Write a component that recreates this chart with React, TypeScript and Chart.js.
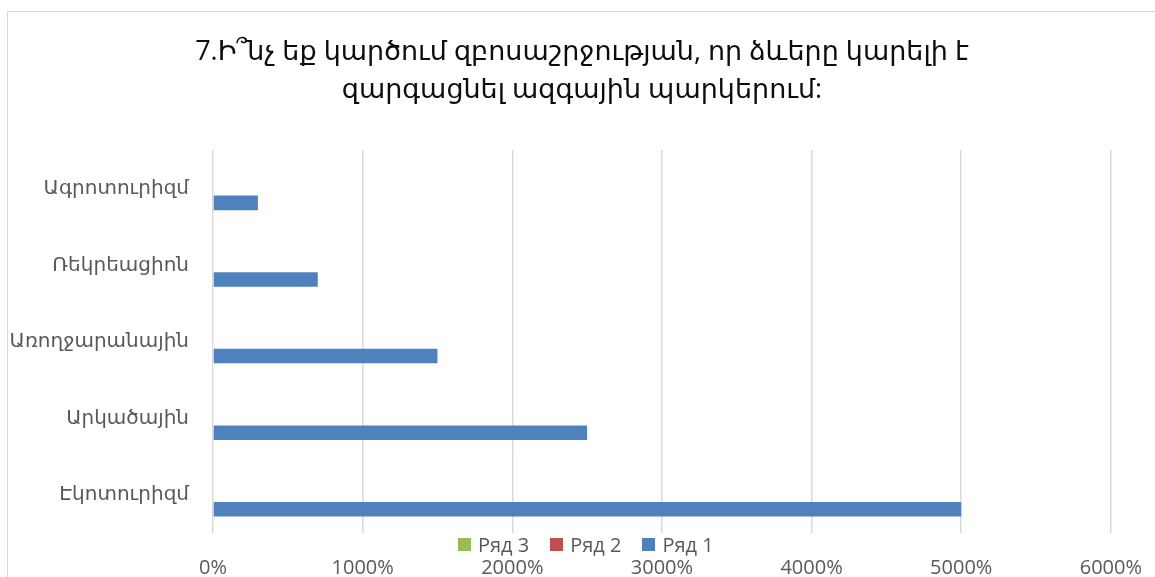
import React, { useEffect, useRef } from 'react';
import { Chart, registerables } from 'chart.js';

Chart.register(...registerables);

const categories = ['Ագրոտուրիզմ', 'Ռեկրեացիոն', 'Առողջարանային', 'Արկածային', 'Էկոտուրիզմ'];
const series1 = [300, 700, 1500, 2500, 5000];
const series2 = [0, 0, 0, 0, 0];
const series3 = [0, 0, 0, 0, 0];
const seriesNames = ['Ряд 1', 'Ряд 2', 'Ряд 3'];
const seriesColors = ['#4F81BD', '#C0504D', '#9BBB59'];
const titleLines = ['7.Ի՞նչ եք կարծում զբոսաշրջության, որ ձևերը կարելի է', 'զարգացնել ազգային պարկերում:'];
const xMin = 0;
const xMax = 6000;
const xStep = 1000;

const FONT = "'Open Sans', 'DejaVu Sans', sans-serif";

export default function App() {
  const canvasRef = useRef<HTMLCanvasElement | null>(null);

  useEffect(() => {
    const canvas = canvasRef.current;
    if (!canvas) return;
    const chart = new Chart(canvas, {
      type: 'bar',
      data: {
        labels: categories,
        datasets: [
          { label: seriesNames[2], data: series3, backgroundColor: seriesColors[2], borderWidth: 0 },
          { label: seriesNames[1], data: series2, backgroundColor: seriesColors[1], borderWidth: 0 },
          { label: seriesNames[0], data: series1, backgroundColor: seriesColors[0], borderWidth: 0 },
        ],
      },
      options: {
        indexAxis: 'y',
        responsive: false,
        animation: false,
        layout: { padding: { top: 138, left: 0, right: 35, bottom: 0 } },
        datasets: { bar: { categoryPercentage: 0.57, barPercentage: 1 } },
        plugins: {
          legend: { display: false },
          tooltip: { enabled: false },
          title: { display: false },
        },
        scales: {
          x: {
            type: 'linear',
            min: xMin,
            max: xMax,
            position: 'bottom',
            ticks: {
              stepSize: xStep,
              color: '#595959',
              font: { family: FONT, size: 20 },
              padding: 23,
              callback: (v: any) => `${v}%`,
              maxRotation: 0,
            },
            grid: { color: '#d9d9d9', lineWidth: 1.5, drawTicks: false },
            border: { display: false },
            afterFit: (scale: any) => {
              scale.height = 44;
            },
          },
          y: {
            type: 'category',
            ticks: {
              color: '#595959',
              font: { family: FONT, size: 20 },
              padding: 24,
            },
            grid: { display: false, drawTicks: false },
            border: { display: false },
            afterFit: (scale: any) => {
              scale.width = 205;
            },
          },
        },
      },
    });
    return () => chart.destroy();
  }, []);

  const legendItems = [2, 1, 0];

  return (
    <div style={{ position: 'fixed', left: 0, top: 0, width: 1155, height: 577, overflow: 'hidden', background: '#fff' }}>
      <div
        style={{
          position: 'absolute',
          left: 7,
          top: 11,
          width: 1170,
          height: 600,
          border: '1px solid #d9d9d9',
          background: '#fff',
        }}
      >
        <canvas
          ref={canvasRef}
          width={1157}
          height={565}
          style={{ position: 'absolute', left: 0, top: 0, width: 1157, height: 565 }}
        />
        <div
          style={{
            position: 'absolute',
            left: 0,
            top: 19,
            width: 1148,
            textAlign: 'center',
            fontFamily: FONT,
            fontSize: 27,
            lineHeight: '38px',
            color: '#0d0d0d',
            whiteSpace: 'nowrap',
          }}
        >
          {titleLines.map((t, i) => (
            <div key={i}>{t}</div>
          ))}
        </div>
        <div
          style={{
            position: 'absolute',
            left: 450,
            top: 520,
            height: 24,
            display: 'flex',
            alignItems: 'center',
            fontFamily: FONT,
            fontSize: 20,
            color: '#595959',
            whiteSpace: 'nowrap',
          }}
        >
          {legendItems.map((i, k) => (
            <div key={i} style={{ display: 'flex', alignItems: 'center', marginLeft: k === 0 ? 0 : 21 }}>
              <span style={{ display: 'inline-block', width: 13, height: 13, background: seriesColors[i], marginRight: 7 }} />
              <span>{seriesNames[i]}</span>
            </div>
          ))}
        </div>
      </div>
    </div>
  );
}
